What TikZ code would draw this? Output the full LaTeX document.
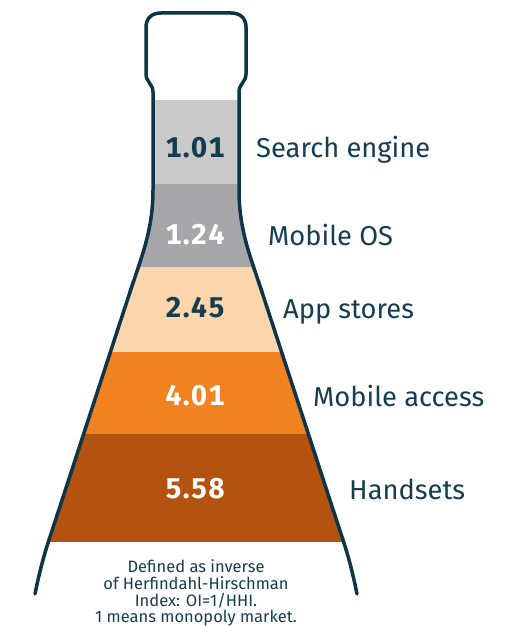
\documentclass[tikz,border=0pt]{standalone}
\usepackage{fontspec}
\setmainfont{Fira Sans}
\newfontfamily\numfont[Numbers=Monospaced,LetterSpace=5]{Fira Sans}
\definecolor{navy}{HTML}{0E3447}
\definecolor{txt}{HTML}{153D52}
\definecolor{gA}{HTML}{C9C9C9}
\definecolor{gB}{HTML}{A7A7A9}
\definecolor{peach}{HTML}{FBD5AC}
\definecolor{orA}{HTML}{F0821F}
\definecolor{orB}{HTML}{B4520F}
\tikzset{
  outline/.style={draw=navy,line width=3.5pt,line cap=round,line join=round},
  num/.style={anchor=base,inner sep=0pt,font=\numfont\bfseries\fontsize{28.5}{32}\selectfont},
  lbl/.style={anchor=base west,inner sep=0pt,text=txt,font=\fontsize{27.3}{30}\selectfont},
  note/.style={anchor=base,inner sep=0pt,text=txt,font=\fontsize{16.5}{18}\selectfont}
}
\begin{document}
\begin{tikzpicture}[x=1pt,y=-1pt]
\useasboundingbox (0,0) rectangle (522,626);
\begin{scope}
\clip (35,594) .. controls (38.6,576) and (43,558) .. (49,540) -- (130,292)
  .. controls (141.5,257) and (153,230) .. (153,190) -- (153,92) -- (239,92) -- (239,190)
  .. controls (239,230) and (250.5,257) .. (262,292) -- (343,540)
  .. controls (349,558) and (353.4,576) .. (357,594) -- cycle;
\fill[gA] (0,100) rectangle (522,184);
\fill[gB] (0,184) rectangle (522,267);
\fill[peach] (0,267) rectangle (522,352);
\fill[orA] (0,352) rectangle (522,434);
\fill[orB] (0,434) rectangle (522,542);
\end{scope}
\draw[outline] (35,594) .. controls (38.6,576) and (43,558) .. (49,540) -- (130,292)
  .. controls (141.5,257) and (153,230) .. (153,190) -- (153,92)
  .. controls (153,84) and (146,82) .. (146,74) -- (146,27)
  .. controls (146,18) and (152,13) .. (161,13) -- (231,13)
  .. controls (240,13) and (246,18) .. (246,27) -- (246,74)
  .. controls (246,82) and (239,84) .. (239,92) -- (239,190)
  .. controls (239,230) and (250.5,257) .. (262,292) -- (343,540)
  .. controls (349,558) and (353.4,576) .. (357,594);
\node[num,text=txt] (v1) at (195,157) {1.01};
\node[num,text=white] (v2) at (195,244) {1.24};
\node[num,text=txt] (v3) at (195,317) {2.45};
\node[num,text=white] (v4) at (195,405) {4.01};
\node[num,text=white] (v5) at (195,498) {5.58};
\node[lbl] (l1) at (256,157) {Search engine};
\node[lbl] (l2) at (268,245) {Mobile OS};
\node[lbl] (l3) at (283,318) {App stores};
\node[lbl] (l4) at (313,406) {Mobile access};
\node[lbl] (l5) at (349,499) {Handsets};
\node[note] (f1) at (196,572) {Defined as inverse};
\node[note] (f2) at (196,589) {of Herfindahl-Hirschman};
\node[note] (f3) at (196,606) {Index: OI=1/HHI.};
\node[note] (f4) at (196,622) {1 means monopoly market.};
\end{tikzpicture}
\end{document}
